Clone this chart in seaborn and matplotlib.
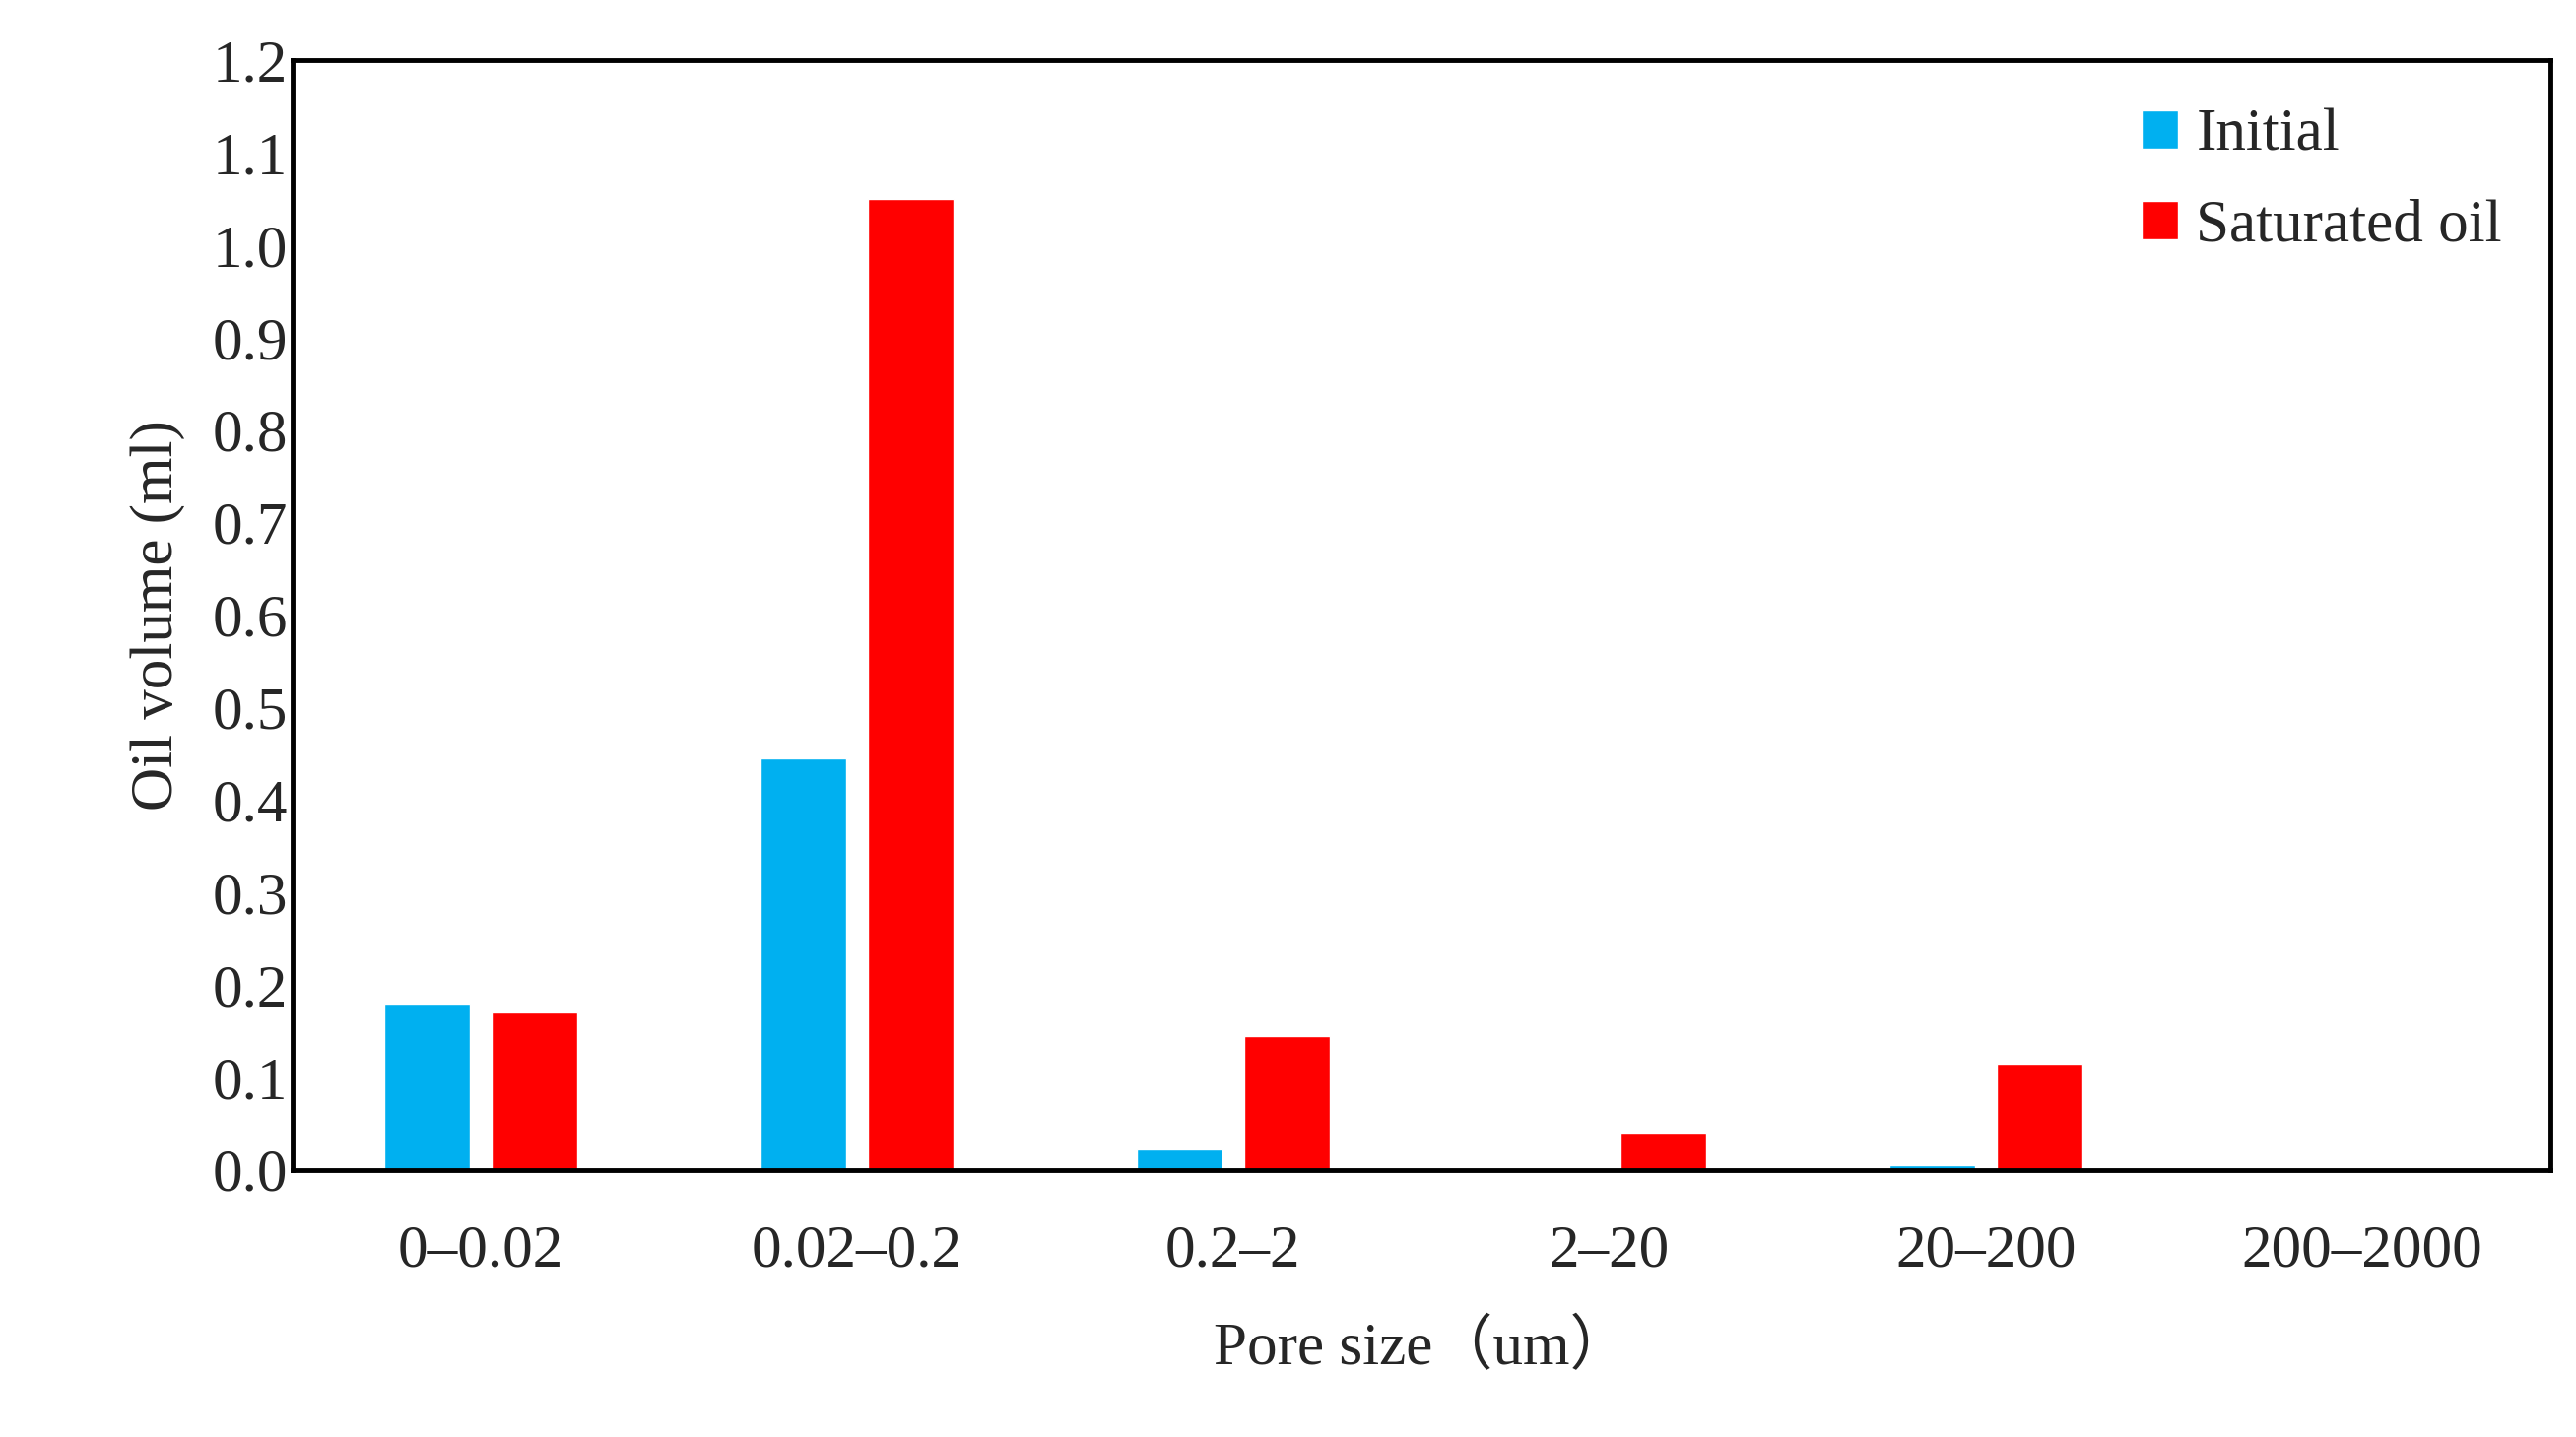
import matplotlib
matplotlib.use("Agg")
import matplotlib.pyplot as plt
import seaborn as sns
import pandas as pd
import numpy as np

categories = ["0–0.02", "0.02–0.2", "0.2–2", "2–20", "20–200", "200–2000"]
initial = [0.18, 0.445, 0.022, 0.0, 0.005, 0.0]
saturated = [0.17, 1.05, 0.145, 0.04, 0.115, 0.0]
series_names = ["Initial", "Saturated oil"]
colors = ["#00B0F0", "#FF0000"]

df = pd.DataFrame({
    "cat": categories * 2,
    "val": initial + saturated,
    "series": [series_names[0]] * len(categories) + [series_names[1]] * len(categories),
})

sns.set_style("white")
plt.rcParams["font.family"] = ["Liberation Serif", "Noto Sans CJK SC"]
fs = 44

fig = plt.figure(figsize=(26.15, 14.59), dpi=100)
ax = fig.add_axes([0.1135, 0.186, 0.8765, 0.772])
sns.barplot(data=df, x="cat", y="val", hue="series", palette=colors,
            width=0.57, gap=0.2, ax=ax, saturation=1)

ax.set_ylim(0, 1.2)
ax.set_yticks(np.arange(0, 1.21, 0.1))
ax.set_yticklabels([f"{v:.1f}" for v in np.arange(0, 1.21, 0.1)])
ax.tick_params(axis="both", length=0, labelsize=fs)
ax.tick_params(axis="x", pad=40)
ax.set_xlim(-0.5, 5.5)
for s in ax.spines.values():
    s.set_linewidth(3.5)
    s.set_color("black")
ax.set_xlabel("Pore size（um）", fontsize=fs, labelpad=30)
ax.set_ylabel("Oil volume (ml)", fontsize=fs, labelpad=20)

leg = ax.legend(frameon=False, fontsize=fs, loc="upper right",
                handlelength=0.6, handleheight=0.6, handletextpad=0.3,
                labelspacing=0.6, borderaxespad=0.4)

fig.savefig("out.png", dpi=100)
